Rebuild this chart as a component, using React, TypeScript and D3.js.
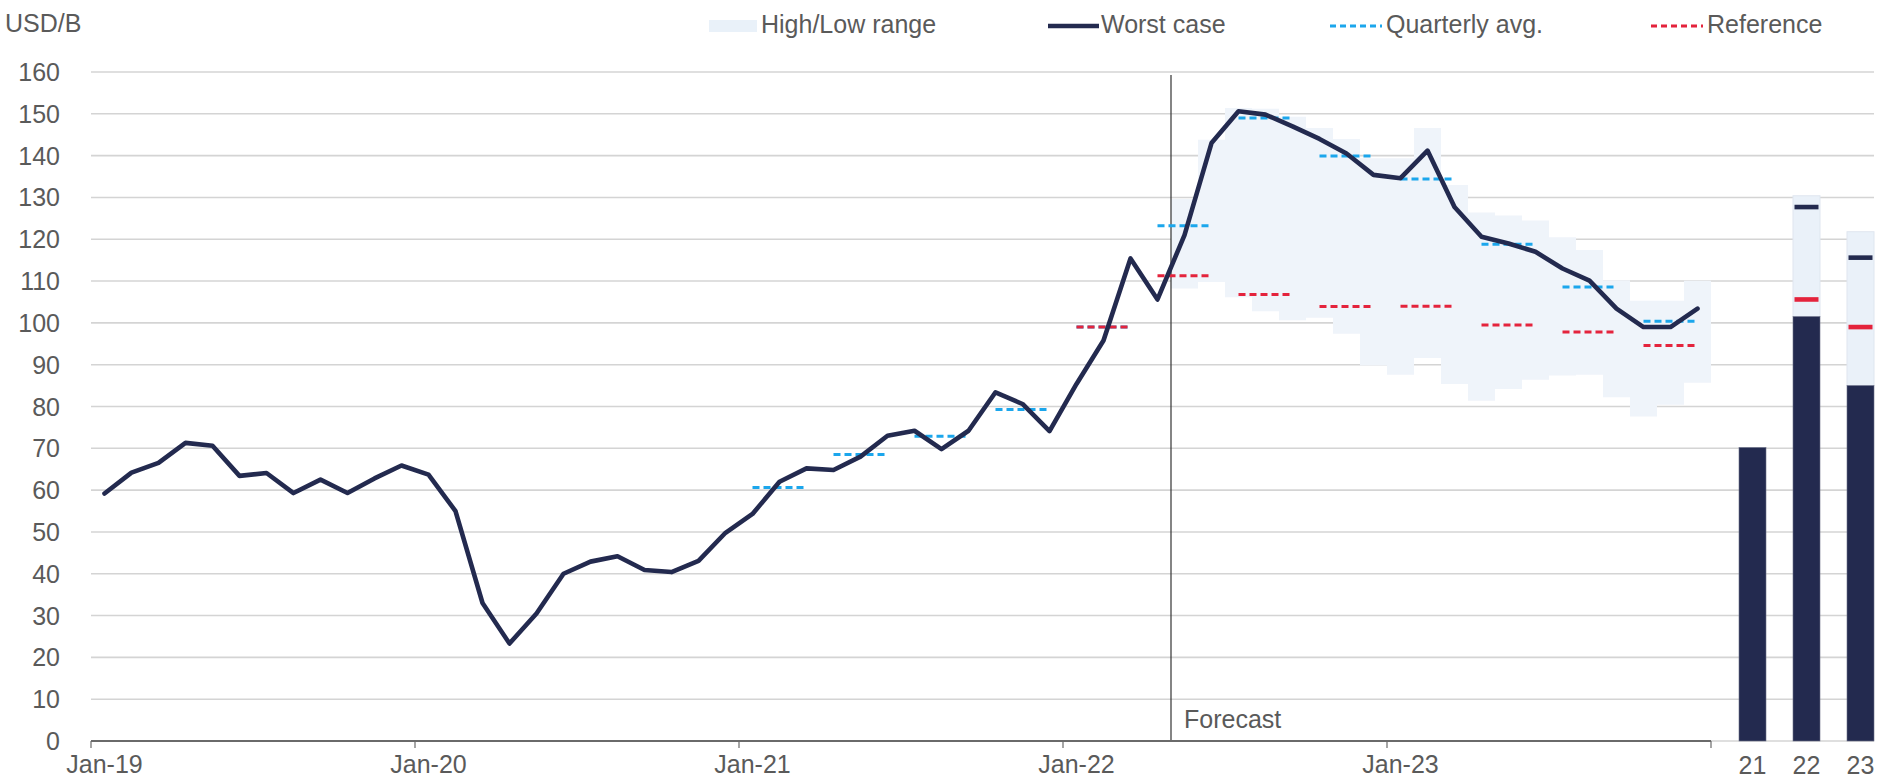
import React from "react";
import * as d3 from "d3";

// ---------- DATA ----------
const monthLabels: string[] = (() => {
  const out: string[] = [];
  const names = ["Jan","Feb","Mar","Apr","May","Jun","Jul","Aug","Sep","Oct","Nov","Dec"];
  for (let y = 19; y <= 23; y++) for (const n of names) out.push(`${n}-${y}`);
  return out;
})();

const worstCase: number[] = [
  59.2, 64.2, 66.5, 71.3, 70.6, 63.4, 64.1, 59.3, 62.5, 59.3, 62.8, 65.9,
  63.7, 55.0, 33.0, 23.3, 30.5, 40.0, 42.9, 44.2, 40.9, 40.4, 43.1, 49.8,
  54.3, 62.0, 65.2, 64.8, 68.0, 73.0, 74.2, 69.8, 74.2, 83.4, 80.6, 74.1,
  85.4, 95.8, 115.4, 105.6, 121.0, 143.0, 150.6, 149.8, 147.0, 144.0, 140.5, 135.4,
  134.6, 141.2, 127.7, 120.6, 119.0, 117.0, 113.0, 110.1, 103.4, 99.0, 99.0, 103.4,
];

const forecastMonths: string[] = monthLabels.slice(40);
const rangeHigh: number[] = [
  129.6, 143.8, 151.4, 151.2, 149.3, 146.6, 144.0, 139.4, 139.4, 146.6,
  133.0, 126.4, 125.7, 124.5, 120.5, 117.4, 110.2, 105.3, 105.3, 110.1,
];
const rangeLow: number[] = [
  108.2, 109.8, 106.1, 102.8, 100.6, 101.2, 97.4, 89.8, 87.6, 91.6,
  85.4, 81.4, 84.2, 86.4, 87.4, 87.6, 82.2, 77.6, 80.4, 85.7,
];

// quarters given by index of first month
const avgQuarterStart: number[] = [24, 27, 30, 33, 36, 39, 42, 45, 48, 51, 54, 57];
const quarterlyAvg: number[] = [60.6, 68.5, 72.9, 79.3, 99.0, 123.2, 149.0, 139.9, 134.4, 118.8, 108.6, 100.4];
const refQuarterStart: number[] = [36, 39, 42, 45, 48, 51, 54, 57];
const referenceVals: number[] = [99.0, 111.3, 106.8, 103.9, 104.0, 99.5, 97.8, 94.6];

const annualYears: string[] = ["21", "22", "23"];
const annualBase: number[] = [70.2, 101.5, 85.0];
const annualHigh: (number | null)[] = [null, 130.4, 121.8];
const annualWorst: (number | null)[] = [null, 127.7, 115.6];
const annualRef: (number | null)[] = [null, 105.6, 99.0];

const yTicks: number[] = d3.range(0, 161, 10);
const yearTickLabels: string[] = ["Jan-19", "Jan-20", "Jan-21", "Jan-22", "Jan-23"];
const forecastStart = "May-22";

// ---------- STYLE ----------
const W = 1886, H = 782;
const NAVY = "#232a4f";
const BLUE = "#1ba6ec";
const RED = "#e4233c";
const BAND = "#eff4fa";
const TXT = "#5a5a5a";
const FONT = "'Liberation Sans', Arial, sans-serif";
const FS = 25;

export default function App() {
  const x = d3.scaleBand<string>().domain(monthLabels).range([91, 1711]).padding(0);
  const bw = x.bandwidth();
  const cx = (m: string) => (x(m) as number) + bw / 2;
  const y = d3.scaleLinear().domain([0, 160]).range([741, 72]);
  const xb = d3.scaleBand<string>().domain(annualYears).range([1712, 1874])
    .paddingInner(0.5).paddingOuter(0.25).align(1);

  const line = d3.line<number>()
    .x((_, i) => cx(monthLabels[i]))
    .y((d) => y(d));

  const bandPts: { x: number; hi: number; lo: number }[] = [];
  forecastMonths.forEach((m, i) => {
    const x0 = x(m) as number;
    bandPts.push({ x: x0, hi: rangeHigh[i], lo: rangeLow[i] });
    bandPts.push({ x: x0 + bw, hi: rangeHigh[i], lo: rangeLow[i] });
  });
  const area = d3.area<{ x: number; hi: number; lo: number }>()
    .x((d) => d.x).y0((d) => y(d.lo)).y1((d) => y(d.hi));

  const qSeg = (start: number) => [cx(monthLabels[start]), cx(monthLabels[start + 2])];

  const xf = x(forecastStart) as number;
  const gridX1 = 1874;

  return (
    <svg width={W} height={H} style={{ position: "absolute", left: 0, top: 0, background: "#fff" }}
      fontFamily={FONT} fontSize={FS}>
      {/* gridlines */}
      {yTicks.map((t) => (
        <line key={t} x1={91} x2={gridX1} y1={y(t)} y2={y(t)} stroke="#d4d4d4" strokeWidth={1.6} />
      ))}
      {/* y labels */}
      {yTicks.map((t) => (
        <text key={"l" + t} x={60} y={y(t) + 9} textAnchor="end" fill={TXT}>{t}</text>
      ))}
      <text x={5} y={32} fill={TXT}>USD/B</text>

      {/* high/low band */}
      <path d={area(bandPts) || ""} fill={BAND} />

      {/* forecast divider */}
      <line x1={xf} x2={xf} y1={75} y2={741} stroke="#333" strokeWidth={1.2} />
      <text x={xf + 13} y={728} fill={TXT}>Forecast</text>

      {/* quarterly average */}
      {avgQuarterStart.map((s, i) => {
        const [a, b] = qSeg(s);
        return <line key={"q" + i} x1={a} x2={b} y1={y(quarterlyAvg[i])} y2={y(quarterlyAvg[i])}
          stroke={BLUE} strokeWidth={3} strokeDasharray="7 4" />;
      })}
      {/* reference */}
      {refQuarterStart.map((s, i) => {
        const [a, b] = qSeg(s);
        return <line key={"r" + i} x1={a} x2={b} y1={y(referenceVals[i])} y2={y(referenceVals[i])}
          stroke={RED} strokeWidth={3} strokeDasharray="7 4" />;
      })}

      {/* worst case line */}
      <path d={line(worstCase) || ""} fill="none" stroke={NAVY} strokeWidth={4.6} strokeLinejoin="round" strokeLinecap="round" />

      {/* annual bars */}
      {annualYears.map((yr, i) => {
        const bx = xb(yr) as number;
        const w = xb.bandwidth();
        const hi = annualHigh[i];
        const wc = annualWorst[i];
        const rf = annualRef[i];
        return (
          <g key={yr}>
            {hi !== null && (
              <rect x={bx} y={y(hi)} width={w} height={y(annualBase[i]) - y(hi)} fill="#eaf1f9" stroke="#dfe6ef" strokeWidth={1} />
            )}
            <rect x={bx} y={y(annualBase[i])} width={w} height={y(0) - y(annualBase[i])} fill={NAVY} stroke="#6b7088" strokeWidth={0.6} />
            {wc !== null && <rect x={bx + 1.5} y={y(wc) - 2.3} width={w - 3} height={4.6} fill={NAVY} />}
            {rf !== null && <rect x={bx + 1.5} y={y(rf) - 2.3} width={w - 3} height={4.6} fill={RED} />}
            <text x={bx + w / 2} y={774} textAnchor="middle" fill={TXT}>{yr}</text>
          </g>
        );
      })}

      {/* x axis */}
      <line x1={91} x2={1711} y1={741} y2={741} stroke="#6a6a6a" strokeWidth={1.8} />
      {yearTickLabels.concat(["Jan-24"]).map((lab, i) => {
        const tx = 91 + i * 12 * bw;
        return <line key={"t" + i} x1={tx} x2={tx} y1={741} y2={748} stroke="#6a6a6a" strokeWidth={1.2} />;
      })}
      {yearTickLabels.map((lab) => (
        <text key={lab} x={cx(lab)} y={773} textAnchor="middle" fill={TXT}>{lab}</text>
      ))}

      {/* legend */}
      <rect x={709} y={20} width={48} height={12} fill="#e9f1f9" />
      <text x={761} y={33} fill={TXT}>High/Low range</text>
      <line x1={1048} x2={1099} y1={26} y2={26} stroke={NAVY} strokeWidth={4.5} />
      <text x={1101} y={33} fill={TXT}>Worst case</text>
      <line x1={1330} x2={1382} y1={26} y2={26} stroke={BLUE} strokeWidth={3} strokeDasharray="6 4" />
      <text x={1386} y={33} fill={TXT}>Quarterly avg.</text>
      <line x1={1651} x2={1703} y1={26} y2={26} stroke={RED} strokeWidth={3} strokeDasharray="6 4" />
      <text x={1707} y={33} fill={TXT}>Reference</text>
    </svg>
  );
}
